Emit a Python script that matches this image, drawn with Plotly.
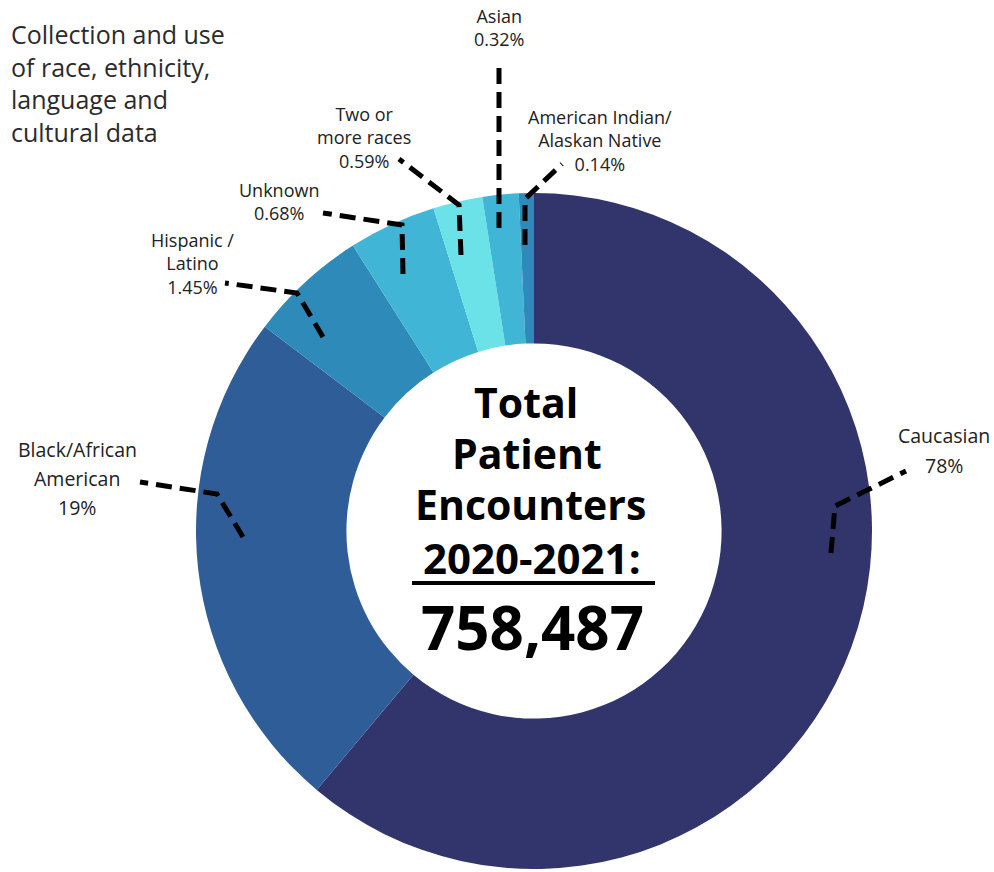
import plotly.graph_objects as go

# ---------------- data ----------------
categories = ["Caucasian", "Black/African American", "Hispanic / Latino", "Unknown",
              "Two or more races", "Asian", "American Indian/Alaskan Native"]
label_lines = [["Caucasian"], ["Black/African", "American"], ["Hispanic /", "Latino"],
               ["Unknown"], ["Two or", "more races"], ["Asian"],
               ["American Indian/", "Alaskan Native"]]
pct_labels = ["78%", "19%", "1.45%", "0.68%", "0.59%", "0.32%", "0.14%"]
# slice sizes as drawn in the picture (degrees of the ring)
slice_sizes = [220.0, 87.2, 20.4, 15.1, 8.5, 6.2, 2.6]
colors = ["#32356B", "#2E5D98", "#2E8AB8", "#41B5D5", "#6AE2E8", "#41B5D5", "#2E8AB8"]
center_lines = ["Total", "Patient", "Encounters", "2020-2021:"]
total_value = "758,487"
side_lines = ["Collection and use", "of race, ethnicity,", "language and", "cultural data"]

# ---------------- layout helpers ----------------
W, H = 994, 872
CX, CY, R = 534, 531, 338


def px(x, y):
    return x / W, 1 - y / H


FONT = "Open Sans"

fig = go.Figure(go.Pie(
    labels=categories, values=slice_sizes, sort=False, direction="clockwise",
    rotation=0, hole=0.555, textinfo="none", hoverinfo="label",
    marker=dict(colors=colors, line=dict(width=0)), showlegend=False,
    domain=dict(x=[(CX - R) / W, (CX + R) / W], y=[(H - CY - R) / H, (H - CY + R) / H]),
))

annotations = []
shapes = []

# label placement: (center x, line y's, stacked-in-one-block?)
label_pos = [
    (944, [435, 465], False),
    (77, [449, 479, 508], False),
    (192, [240, 263, 286], True),
    (279, [190, 213], True),
    (364, [113, 137, 161], True),
    (499, [16, 39], True),
    (600, [117, 140, 163], True),
]
leaders = [
    [(831, 553), (835, 506), (906, 471)],
    [(243, 537), (217, 494), (140, 482)],
    [(323, 337), (297, 293), (225, 283)],
    [(403, 274), (402, 225), (323, 213)],
    [(461, 255), (459, 205), (399, 159)],
    [(499, 228), (499, 62)],
    [(525, 245), (525, 199), (562, 164)],
]

for lines, pct, (cx, ys, block), pts in zip(label_lines, pct_labels, label_pos, leaders):
    all_lines = lines + [pct]
    if block:
        x, y = px(cx, sum(ys) / len(ys))
        annotations.append(dict(x=x, y=y, xref="paper", yref="paper",
                                text="<br>".join(all_lines),
                                showarrow=False, xanchor="center", yanchor="middle",
                                align="center",
                                font=dict(family=FONT, size=18, color="#222222")))
    else:
        for txt, yy in zip(all_lines, ys):
            x, y = px(cx, yy)
            annotations.append(dict(x=x, y=y, xref="paper", yref="paper", text=txt,
                                    showarrow=False, xanchor="center", yanchor="middle",
                                    font=dict(family=FONT, size=19.5, color="#222222")))
    path = ""
    for i, (a, b) in enumerate(pts):
        x, y = px(a, b)
        path += ("M" if i == 0 else " L") + f"{x:.5f},{y:.5f}"
    shapes.append(dict(type="path", path=path, xref="paper", yref="paper",
                       line=dict(color="black", width=5, dash="16px,8px")))

# center text
center_pos = [(526, 402, 41), (527, 453, 41), (530, 504, 41), (532, 557, 42)]
for txt, (cx, cy, fs) in zip(center_lines, center_pos):
    x, y = px(cx, cy)
    annotations.append(dict(x=x, y=y, xref="paper", yref="paper", text=f"<b>{txt}</b>",
                            showarrow=False, xanchor="center", yanchor="middle",
                            font=dict(family=FONT, size=fs, color="black")))
x, y = px(532, 627)
annotations.append(dict(x=x, y=y, xref="paper", yref="paper", text=f"<b>{total_value}</b>",
                        showarrow=False, xanchor="center", yanchor="middle",
                        font=dict(family=FONT, size=60, color="black")))
x0, y0 = px(412, 583)
x1, y1 = px(655, 583)
shapes.append(dict(type="line", x0=x0, y0=y0, x1=x1, y1=y1, xref="paper", yref="paper",
                   line=dict(color="black", width=4)))

# side text
x, y = px(9, 83)
annotations.append(dict(x=x, y=y, xref="paper", yref="paper", text="<br>".join(side_lines),
                        showarrow=False, xanchor="left", yanchor="middle", align="left",
                        font=dict(family=FONT, size=25, color="#2b2b2b")))

fig.update_layout(width=W, height=H, margin=dict(l=0, r=0, t=0, b=0),
                  paper_bgcolor="white", plot_bgcolor="white",
                  annotations=annotations, shapes=shapes)

fig.write_html("out.html")
